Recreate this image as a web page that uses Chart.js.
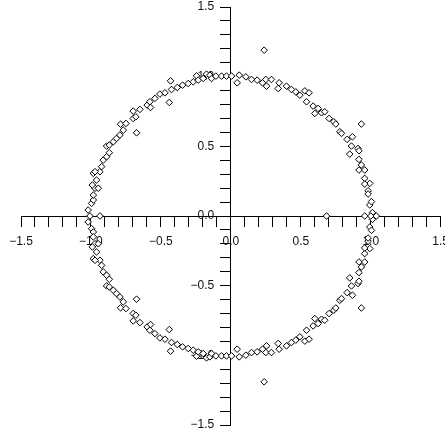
<!DOCTYPE html>
<html>
<head>
<meta charset="utf-8">
<script src="https://cdn.jsdelivr.net/npm/chart.js@4"></script>
<style>
  html, body { margin: 0; padding: 0; background: #fff; }
  #wrap { width: 445px; height: 437px; position: relative; }
</style>
</head>
<body>
<div id="wrap"><canvas id="eigChart"></canvas></div>
<script>
// upper half-plane points (real part, imaginary part)
const upperRe = [-1.02, -0.995, -0.983, -0.983, -0.971, -0.948, -0.99, -0.96, -0.983, -0.936, -0.971, -0.924, -0.912, -0.888, -0.869, -0.888, -0.869, -0.84, -0.817, -0.793, -0.769, -0.788, -0.75, -0.674, -0.698, -0.679, -0.698, -0.65, -0.598, -0.574, -0.579, -0.543, -0.507, -0.471, -0.44, -0.431, -0.424, -0.383, -0.345, -0.305, -0.269, -0.245, -0.233, -0.198, -0.174, -0.15, -0.138, -0.107, -0.066, -0.031,
  0.005, 0.045, 0.06, 0.107, 0.148, 0.188, 0.226, 0.25, 0.255, 0.29, 0.238, 0.345, 0.338, 0.398, 0.433, 0.464, 0.493, 0.529, 0.559, 0.541, 0.588, 0.624, 0.6, 0.648, 0.671, 0.702, 0.736, 0.75, 0.779, 0.791, 0.831, 0.869, 0.862, 0.85, 0.909, 0.916, 0.933, 0.916, 0.933, 0.916, 0.957, 0.957, 0.993, 0.957, 0.981, 0.981, 0.993, 1.005, 1.012];
const upperIm = [0.043, 0.091, 0.115, 0.15, 0.199, 0.199, 0.222, 0.258, 0.306, 0.318, 0.318, 0.354, 0.401, 0.425, 0.454, 0.502, 0.509, 0.533, 0.557, 0.581, 0.616, 0.659, 0.664, 0.597, 0.7, 0.712, 0.753, 0.765, 0.796, 0.779, 0.82, 0.844, 0.875, 0.884, 0.815, 0.97, 0.908, 0.922, 0.939, 0.951, 0.963, 1.006, 0.975, 0.987, 1.018, 1.011, 0.987, 1.004, 1.004, 1.004,
  1.004, 0.956, 1.011, 0.999, 0.98, 0.975, 0.956, 0.98, 0.932, 0.98, 1.19, 0.956, 0.915, 0.932, 0.908, 0.891, 0.867, 0.898, 0.884, 0.82, 0.789, 0.772, 0.736, 0.741, 0.748, 0.7, 0.676, 0.66, 0.605, 0.593, 0.55, 0.569, 0.502, 0.444, 0.485, 0.468, 0.66, 0.406, 0.366, 0.33, 0.33, 0.27, 0.234, 0.229, 0.181, 0.158, 0.079, 0.103, 0.024];

// lower half-plane points (conjugates)
const lowerRe = [-1.02, -0.995, -0.983, -0.983, -0.971, -0.948, -0.99, -0.96, -0.983, -0.936, -0.971, -0.924, -0.912, -0.888, -0.869, -0.888, -0.869, -0.84, -0.817, -0.793, -0.769, -0.788, -0.75, -0.674, -0.698, -0.679, -0.698, -0.65, -0.598, -0.574, -0.579, -0.543, -0.507, -0.471, -0.44, -0.431, -0.424, -0.383, -0.345, -0.305, -0.269, -0.245, -0.233, -0.198, -0.174, -0.15, -0.138, -0.107, -0.066, -0.031,
  0.005, 0.045, 0.06, 0.107, 0.148, 0.188, 0.226, 0.25, 0.255, 0.29, 0.238, 0.345, 0.338, 0.398, 0.433, 0.464, 0.493, 0.529, 0.559, 0.541, 0.588, 0.624, 0.6, 0.648, 0.671, 0.702, 0.736, 0.75, 0.779, 0.791, 0.831, 0.869, 0.862, 0.85, 0.909, 0.916, 0.933, 0.916, 0.933, 0.916, 0.957, 0.957, 0.993, 0.957, 0.981, 0.981, 0.993, 1.005, 1.012];
const lowerIm = [-0.043, -0.091, -0.115, -0.15, -0.199, -0.199, -0.222, -0.258, -0.306, -0.318, -0.318, -0.354, -0.401, -0.425, -0.454, -0.502, -0.509, -0.533, -0.557, -0.581, -0.616, -0.659, -0.664, -0.597, -0.7, -0.712, -0.753, -0.765, -0.796, -0.779, -0.82, -0.844, -0.875, -0.884, -0.815, -0.97, -0.908, -0.922, -0.939, -0.951, -0.963, -1.006, -0.975, -0.987, -1.018, -1.011, -0.987, -1.004, -1.004, -1.004,
  -1.004, -0.956, -1.011, -0.999, -0.98, -0.975, -0.956, -0.98, -0.932, -0.98, -1.19, -0.956, -0.915, -0.932, -0.908, -0.891, -0.867, -0.898, -0.884, -0.82, -0.789, -0.772, -0.736, -0.741, -0.748, -0.7, -0.676, -0.66, -0.605, -0.593, -0.55, -0.569, -0.502, -0.444, -0.485, -0.468, -0.66, -0.406, -0.366, -0.33, -0.33, -0.27, -0.234, -0.229, -0.181, -0.158, -0.079, -0.103, -0.024];

// points lying on the real axis
const realRe = [-1.007, -0.936, 0.684, 0.957, 1.0, 1.04];
const realIm = [0, 0, 0, 0, 0, 0];

const axisMin = -1.5;
const axisMax = 1.5;

const points = [];
upperRe.forEach((x, i) => points.push({ x: x, y: upperIm[i] }));
lowerRe.forEach((x, i) => points.push({ x: x, y: lowerIm[i] }));
realRe.forEach((x, i) => points.push({ x: x, y: realIm[i] }));

function tickLabel(value) {
    const tenth = Math.round(value * 10);
    if (tenth % 5 !== 0) return '';
    const s = Math.abs(tenth / 10).toFixed(1);
    return tenth < 0 ? '\u2212' + s : s;
}

// the y axis sits on x = 0 and Chart.js puts its labels flush with the line,
// so trailing spaces push them clear of the tick marks
function yTickLabel(value) {
    const s = tickLabel(value);
    return s ? s + '     ' : '';
}

// edge labels may hang outside the plot (the right "1.5" is cut off in the original)
function noEdgePadding(scale) {
    scale.paddingLeft = 0;
    scale.paddingRight = 0;
    scale.paddingTop = 0;
    scale.paddingBottom = 0;
}

const ctx = document.getElementById('eigChart');

new Chart(ctx, {
    type: 'scatter',
    data: {
        datasets: [{
            data: points,
            pointStyle: 'rectRot',
            pointRadius: 3.3,
            pointHoverRadius: 3.3,
            borderWidth: 1,
            borderColor: '#000',
            backgroundColor: '#fff',
        }]
    },
    options: {
        responsive: true,
        maintainAspectRatio: false,
        animation: false,
        events: [],
        layout: {
            padding: { left: 21, right: 4, top: 7, bottom: 12 }
        },
        plugins: {
            legend: { display: false },
            tooltip: { enabled: false },
            title: { display: false }
        },
        scales: {
            x: {
                type: 'linear',
                position: { y: 0 },
                min: axisMin,
                max: axisMax,
                afterFit: noEdgePadding,
                border: { display: true, color: '#000', width: 1 },
                grid: {
                    drawOnChartArea: false,
                    drawTicks: true,
                    tickLength: 10,
                    tickColor: '#000',
                    tickWidth: 1
                },
                ticks: {
                    stepSize: 0.1,
                    autoSkip: false,
                    maxRotation: 0,
                    maxTicksLimit: 100,
                    padding: 8,
                    color: '#111',
                    font: { family: 'Liberation Sans, Arial, sans-serif', size: 12 },
                    callback: tickLabel
                }
            },
            y: {
                type: 'linear',
                position: { x: 0 },
                min: axisMin,
                max: axisMax,
                afterFit: noEdgePadding,
                border: { display: true, color: '#000', width: 1 },
                grid: {
                    drawOnChartArea: false,
                    drawTicks: true,
                    tickLength: 10,
                    tickColor: '#000',
                    tickWidth: 1
                },
                ticks: {
                    stepSize: 0.1,
                    autoSkip: false,
                    maxTicksLimit: 100,
                    padding: 6,
                    color: '#111',
                    font: { family: 'Liberation Sans, Arial, sans-serif', size: 12 },
                    callback: yTickLabel
                }
            }
        }
    }
});
</script>
</body>
</html>
